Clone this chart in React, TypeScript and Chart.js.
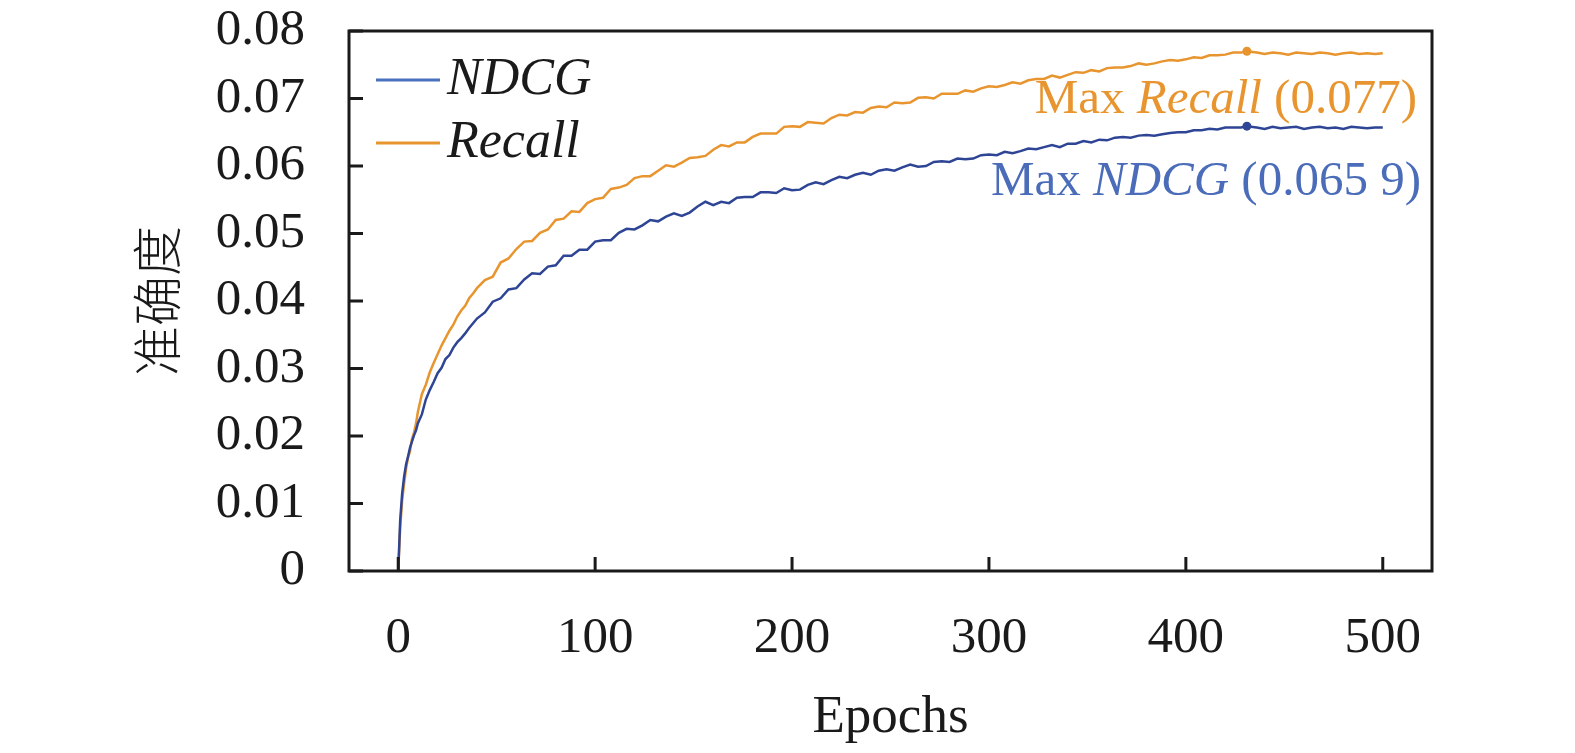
import React, { useEffect, useRef } from "react";
import { Chart, registerables } from "chart.js";

Chart.register(...registerables);

const epochs = [
  0, 1, 2, 3, 4, 5, 6, 7, 8, 9, 10, 12, 14, 16, 18, 20, 22, 24, 26, 28, 30, 32, 34, 36, 38, 40,
  44, 48, 52, 56, 60, 64, 68, 72, 76, 80, 84, 88, 92, 96, 100, 104, 108, 112, 116, 120, 124, 128,
  132, 136, 140, 144, 148, 152, 156, 160, 164, 168, 172, 176, 180, 184, 188, 192, 196, 200, 204,
  208, 212, 216, 220, 224, 228, 232, 236, 240, 244, 248, 252, 256, 260, 264, 268, 272, 276, 280,
  284, 288, 292, 296, 300, 304, 308, 312, 316, 320, 324, 328, 332, 336, 340, 344, 348, 352, 356,
  360, 364, 368, 372, 376, 380, 384, 388, 392, 396, 400, 404, 408, 412, 416, 420, 424, 428, 431,
  436, 440, 444, 448, 452, 456, 460, 464, 468, 472, 476, 480, 484, 488, 492, 496, 500,
];

const recall = [
  0, 0.0065, 0.0105, 0.013, 0.0152, 0.0168, 0.0178, 0.0196, 0.0205, 0.0218, 0.0236,
  0.0262, 0.0276, 0.0294, 0.0308, 0.0321, 0.0334, 0.0345, 0.0356, 0.0365, 0.0377, 0.0386, 0.0393, 0.0404, 0.0411, 0.0419,
  0.0431, 0.0436, 0.0457, 0.0463, 0.0477, 0.0488, 0.0489, 0.0501, 0.0506, 0.052,
  0.0522, 0.0533, 0.0532, 0.0545, 0.0551, 0.0553, 0.0566, 0.0568, 0.0572, 0.0582,
  0.0585, 0.0585, 0.0593, 0.0601, 0.0599, 0.0605, 0.0612, 0.0613, 0.0615, 0.0624,
  0.0631, 0.0629, 0.0635, 0.0635, 0.0643, 0.0648, 0.0648, 0.0648, 0.0658, 0.0659,
  0.0658, 0.0665, 0.0664, 0.0663, 0.0671, 0.0676, 0.0675, 0.068, 0.0679, 0.0686,
  0.0688, 0.0687, 0.0694, 0.0693, 0.0694, 0.0701, 0.0702, 0.07, 0.0707, 0.0707,
  0.0707, 0.0712, 0.071, 0.0715, 0.0718, 0.0717, 0.072, 0.0724, 0.0722, 0.0727,
  0.0729, 0.0729, 0.0734, 0.0731, 0.0735, 0.0739, 0.0738, 0.0742, 0.074, 0.0745,
  0.0746, 0.0746, 0.0748, 0.0752, 0.075, 0.0752, 0.0755, 0.0757, 0.0756, 0.0758,
  0.0761, 0.076, 0.0764, 0.0764, 0.0765, 0.0768, 0.0768, 0.077,
  0.0768, 0.0766, 0.0768, 0.0767, 0.0765, 0.0768, 0.0767, 0.0766, 0.0768, 0.0767, 0.0765,
  0.0767, 0.0768, 0.0766, 0.0767, 0.0766, 0.0767,
];

const ndcg = [
  0, 0.0075, 0.0115, 0.014, 0.0158, 0.017, 0.0183, 0.0192, 0.0201, 0.0208, 0.0219,
  0.0232, 0.0254, 0.0268, 0.028, 0.0293, 0.0301, 0.0314, 0.032, 0.0331, 0.0339, 0.0345, 0.0352, 0.036, 0.0367, 0.0374,
  0.0383, 0.0399, 0.0404, 0.0417, 0.0419, 0.0432, 0.0441, 0.044, 0.0451, 0.0453,
  0.0467, 0.0467, 0.0476, 0.0476, 0.0488, 0.049, 0.049, 0.0501, 0.0507, 0.0506,
  0.0512, 0.052, 0.0518, 0.0525, 0.053, 0.0526, 0.0531, 0.054, 0.0547, 0.0542,
  0.0547, 0.0545, 0.0553, 0.0554, 0.0554, 0.0561, 0.0561, 0.056, 0.0567, 0.0564,
  0.0565, 0.0572, 0.0576, 0.0573, 0.0579, 0.0584, 0.0582, 0.0587, 0.059, 0.0587,
  0.0593, 0.0595, 0.0593, 0.0598, 0.0602, 0.0599, 0.06, 0.0606, 0.0607, 0.0606,
  0.0611, 0.061, 0.0611, 0.0616, 0.0617, 0.0616, 0.0621, 0.0619, 0.0622, 0.0626,
  0.0625, 0.0628, 0.0631, 0.0628, 0.0633, 0.0633, 0.0637, 0.0635, 0.0639, 0.0638,
  0.0642, 0.0643, 0.0642, 0.0645, 0.0646, 0.0645, 0.0647, 0.0649, 0.065, 0.065,
  0.0653, 0.0653, 0.0655, 0.0654, 0.0657, 0.0657, 0.0657, 0.0659,
  0.0657, 0.0655, 0.0658, 0.0656, 0.0657, 0.0658, 0.0655, 0.0657, 0.0658, 0.0656, 0.0657,
  0.0655, 0.0658, 0.0657, 0.0656, 0.0657, 0.0657,
];

const maxEpoch = 431;
const maxRecall = 0.077;
const maxNdcg = 0.0659;

const xTicks = [0, 100, 200, 300, 400, 500];
const yTicks = [0, 0.01, 0.02, 0.03, 0.04, 0.05, 0.06, 0.07, 0.08];

const xTitle = "Epochs";
const yTitle = "准确度";
const recallLabel = "Recall";
const ndcgLabel = "NDCG";

const SERIF = '"Liberation Serif", "Times New Roman", serif';
const ORANGE = "#E8952F";
const BLUE_LINE = "#2E4595";
const BLUE_TEXT = "#4A6CB9";
const BLUE_LEGEND = "#4A70C0";
const INK = "#1a1a1a";

type Part = { text: string; italic?: boolean };

function drawRich(ctx: CanvasRenderingContext2D, parts: Part[], rightX: number, baseY: number, color: string, size: number) {
  const widths = parts.map((p) => {
    ctx.font = `${p.italic ? "italic " : ""}${size}px ${SERIF}`;
    return ctx.measureText(p.text).width;
  });
  const total = widths.reduce((a, b) => a + b, 0);
  let x = rightX - total;
  ctx.fillStyle = color;
  ctx.textBaseline = "alphabetic";
  ctx.textAlign = "left";
  parts.forEach((p, i) => {
    ctx.font = `${p.italic ? "italic " : ""}${size}px ${SERIF}`;
    ctx.fillText(p.text, x, baseY);
    x += widths[i];
  });
}

const framePlugin = {
  id: "frameAndDecor",
  afterDraw(chart: any) {
    const { ctx, chartArea } = chart;
    const xs = chart.scales.x;
    const ys = chart.scales.y;
    ctx.save();
    ctx.strokeStyle = INK;
    ctx.lineWidth = 3;
    ctx.strokeRect(chartArea.left, chartArea.top, chartArea.right - chartArea.left, chartArea.bottom - chartArea.top);
    ctx.beginPath();
    yTicks.forEach((v) => {
      const y = ys.getPixelForValue(v);
      ctx.moveTo(chartArea.left, y);
      ctx.lineTo(chartArea.left + 14, y);
    });
    xTicks.forEach((v) => {
      const x = xs.getPixelForValue(v);
      ctx.moveTo(x, chartArea.bottom);
      ctx.lineTo(x, chartArea.bottom - 14);
    });
    ctx.stroke();

    // legend
    const lx = chartArea.left + 27;
    const items = [
      { label: ndcgLabel, color: BLUE_LEGEND, y: chartArea.top + 49 },
      { label: recallLabel, color: ORANGE, y: chartArea.top + 112 },
    ];
    items.forEach((it) => {
      ctx.strokeStyle = it.color;
      ctx.lineWidth = 3;
      ctx.beginPath();
      ctx.moveTo(lx, it.y);
      ctx.lineTo(lx + 64, it.y);
      ctx.stroke();
      ctx.fillStyle = INK;
      ctx.font = `italic 52px ${SERIF}`;
      ctx.textBaseline = "middle";
      ctx.textAlign = "left";
      ctx.fillText(it.label, lx + 71, it.y);
    });

    // max annotations
    const rpY = ys.getPixelForValue(maxRecall);
    const npY = ys.getPixelForValue(maxNdcg);
    drawRich(ctx, [{ text: "Max " }, { text: recallLabel, italic: true }, { text: " (0.077)" }], chartArea.right - 15, rpY + 62, ORANGE, 49);
    drawRich(ctx, [{ text: "Max " }, { text: ndcgLabel, italic: true }, { text: " (0.065 9)" }], chartArea.right - 11, npY + 69, BLUE_TEXT, 49);
    ctx.restore();
  },
};

export default function App() {
  const ref = useRef<HTMLCanvasElement | null>(null);
  useEffect(() => {
    document.body.style.margin = "0";
    const canvas = ref.current;
    if (!canvas) return;
    const chart = new Chart(canvas, {
      type: "line",
      data: {
        datasets: [
          {
            label: ndcgLabel,
            data: epochs.map((e, i) => ({ x: e, y: ndcg[i] })),
            borderColor: BLUE_LINE,
            borderWidth: 2.5,
            pointRadius: 0,
            tension: 0,
          },
          {
            label: recallLabel,
            data: epochs.map((e, i) => ({ x: e, y: recall[i] })),
            borderColor: ORANGE,
            borderWidth: 2.5,
            pointRadius: 0,
            tension: 0,
          },
          {
            label: "maxNdcg",
            data: [{ x: maxEpoch, y: maxNdcg }],
            showLine: false,
            pointRadius: 4.5,
            pointBackgroundColor: BLUE_LINE,
            pointBorderWidth: 0,
          },
          {
            label: "maxRecall",
            data: [{ x: maxEpoch, y: maxRecall }],
            showLine: false,
            pointRadius: 4.5,
            pointBackgroundColor: ORANGE,
            pointBorderWidth: 0,
          },
        ],
      },
      options: {
        animation: false,
        responsive: false,
        devicePixelRatio: 1,
        layout: { padding: { top: 31, right: 143, left: 0, bottom: 0 } },
        plugins: { legend: { display: false }, tooltip: { enabled: false } },
        scales: {
          x: {
            type: "linear",
            min: -25,
            max: 525,
            afterBuildTicks: (s: any) => {
              s.ticks = xTicks.map((v) => ({ value: v }));
            },
            afterFit: (s: any) => {
              s.height = 182;
              s.paddingLeft = 0;
              s.paddingRight = 0;
              s.paddingTop = 0;
              s.paddingBottom = 0;
            },
            grid: { display: false, drawTicks: false },
            border: { display: false },
            ticks: {
              color: INK,
              font: { family: SERIF, size: 51 },
              padding: 37,
              maxRotation: 0,
              autoSkip: false,
              callback: (v: any) => String(v),
            },
            title: {
              display: true,
              text: xTitle,
              color: INK,
              font: { family: SERIF, size: 53 },
              padding: { top: 0, bottom: 3 },
            },
          },
          y: {
            type: "linear",
            min: 0,
            max: 0.08,
            afterBuildTicks: (s: any) => {
              s.ticks = yTicks.map((v) => ({ value: v }));
            },
            afterFit: (s: any) => {
              s.width = 349;
              s.paddingLeft = 0;
              s.paddingRight = 0;
              s.paddingTop = 0;
              s.paddingBottom = 0;
            },
            grid: { display: false, drawTicks: false },
            border: { display: false },
            ticks: {
              color: INK,
              font: { family: SERIF, size: 51 },
              padding: 44,
              autoSkip: false,
              callback: (v: any) => (v === 0 ? "0" : Number(v).toFixed(2)),
            },
            title: {
              display: true,
              text: yTitle,
              color: INK,
              font: { family: '"Noto Sans CJK SC", sans-serif', size: 50, weight: 300 },
              padding: { top: 127, bottom: 0 },
            },
          },
        },
      },
      plugins: [framePlugin],
    } as any);
    return () => chart.destroy();
  }, []);
  return (
    <div style={{ position: "absolute", left: 0, top: 0, width: 1575, height: 753, background: "#fff" }}>
      <canvas ref={ref} width={1575} height={753} style={{ width: 1575, height: 753, display: "block" }} />
    </div>
  );
}
